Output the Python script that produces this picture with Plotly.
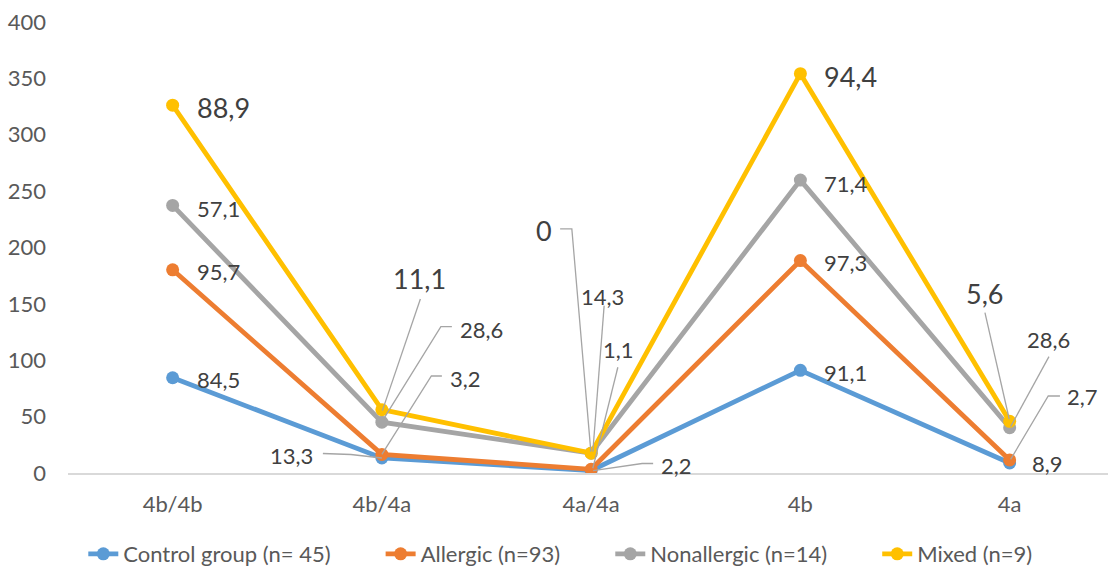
import numpy as np
import plotly.graph_objects as go

categories = ["4b/4b", "4b/4a", "4a/4a", "4b", "4a"]
series_names = ["Control group (n= 45)", "Allergic (n=93)", "Nonallergic (n=14)", "Mixed (n=9)"]
control = [84.5, 13.3, 2.2, 91.1, 8.9]
allergic = [95.7, 3.2, 1.1, 97.3, 2.7]
nonallergic = [57.1, 28.6, 14.3, 71.4, 28.6]
mixed = [88.9, 11.1, 0, 94.4, 5.6]
y_ticks = [0, 50, 100, 150, 200, 250, 300, 350, 400]

colors = ["#5B9BD5", "#ED7D31", "#A5A5A5", "#FFC000"]
values = np.array([control, allergic, nonallergic, mixed])
stacked = np.cumsum(values, axis=0)

FONT = "Lato"
PAD = "\u00a0" * 8
fig = go.Figure()
for s in range(4):
    fig.add_trace(go.Scatter(
        x=categories, y=stacked[s], name=series_names[s] + PAD,
        mode="lines+markers",
        line=dict(color=colors[s], width=4.8),
        marker=dict(color=colors[s], size=13),
    ))

# label placement: (series, category, dx, dy (screen px), anchor, leader path in screen px offsets)
label_specs = [
    (0, 0, 22, 2, "left", None), (1, 0, 22, 2, "left", None),
    (2, 0, 22, 3, "left", None), (3, 0, 22, 2, "left", None),
    (0, 3, 22, 2, "left", None), (1, 3, 22, 2, "left", None),
    (2, 3, 22, 3, "left", None), (3, 3, 22, 3, "left", None),
    (0, 1, -90, -3, "center", [(-59, -4.5), (-31, -3.5), (0, 0)]),
    (1, 1, 83.5, -76, "center", [(60, -78.4), (49.5, -78.4), (0, 0)]),
    (2, 1, 100, -93, "center", [(70, -95.5), (59, -95.5), (1, -2)]),
    (3, 1, 37.5, -131, "center", [(38.5, -110.6), (0.5, 1)]),
    (0, 2, 85, -5.5, "center", [(62, -7), (51, -7), (2, 0)]),
    (1, 2, 27.3, -119.3, "center", [(26.7, -102), (1.7, -1)]),
    (2, 2, 11.7, -156.5, "center", [(13, -147.5), (1.7, -1.5)]),
    (3, 2, -47, -223, "center", [(-31, -224.2), (-19.3, -224.2), (-0.3, -1.5)]),
    (0, 4, 37.6, 1, "center", None),
    (1, 4, 72.6, -63.2, "center", [(50.3, -63.9), (38.6, -63.9), (1, -0.6)]),
    (2, 4, 38.6, -87.7, "center", [(39.3, -71), (1, -1)]),
    (3, 4, -24.7, -128.1, "center", [(-24.7, -108.7), (-0.4, -2.1)]),
]

annotations = []
shapes = []
for s, c, dx, dy, anchor, path in label_specs:
    txt = f"{values[s][c]:g}".replace(".", ",")
    annotations.append(dict(
        x=c, y=stacked[s][c], xref="x", yref="y", text=txt, showarrow=False,
        xanchor=anchor, yanchor="middle", xshift=dx, yshift=-dy,
        font=dict(family=FONT, size=27 if s == 3 else 22, color="#404040"),
    ))
    if path:
        d = "M " + " L ".join(f"{px},{-py}" for px, py in path)
        shapes.append(dict(
            type="path", xref="x", yref="y", xsizemode="pixel", ysizemode="pixel",
            xanchor=c, yanchor=stacked[s][c], path=d,
            line=dict(color="#A5A5A5", width=1.3), layer="above",
        ))

fig.update_layout(
    width=1108, height=569,
    margin=dict(l=68, r=0, t=22, b=96, autoexpand=False),
    paper_bgcolor="white", plot_bgcolor="white",
    font=dict(family=FONT, size=22, color="#595959"),
    xaxis=dict(
        type="category", range=[-0.5, 4.47], showgrid=False, zeroline=False,
        showline=True, linecolor="#D9D9D9", linewidth=1.5,
        ticks="", ticklabelstandoff=11,
        tickfont=dict(family=FONT, size=22, color="#595959"),
    ),
    yaxis=dict(
        range=[0, 400], tickvals=y_ticks, showgrid=False, zeroline=False,
        showline=False, ticks="", ticklabelstandoff=21,
        tickfont=dict(family=FONT, size=22, color="#595959"),
    ),
    legend=dict(
        orientation="h", x=0.495, xanchor="center",
        yref="container", y=(569 - 554) / 569, yanchor="middle",
        font=dict(family=FONT, size=22, color="#595959"),
        tracegroupgap=0,
    ),
    annotations=annotations,
    shapes=shapes,
    showlegend=True,
)

fig.write_html("out.html", config={"displayModeBar": False},
               post_script="document.body.style.margin='0';")
